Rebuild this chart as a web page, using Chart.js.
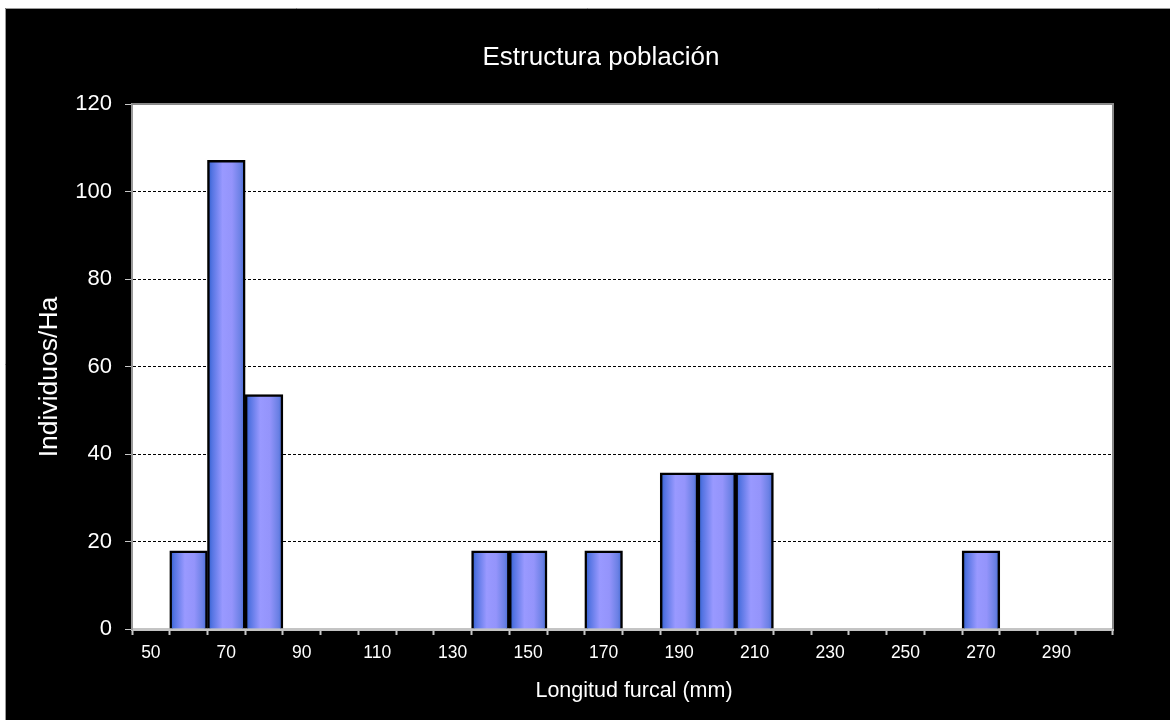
<!DOCTYPE html>
<html>
<head>
<meta charset="utf-8">
<script src="https://cdn.jsdelivr.net/npm/chart.js@4/dist/chart.umd.min.js"></script>
<style>
  html, body { margin: 0; padding: 0; background: #ffffff; }
  #wrap { width: 1170px; height: 720px; position: relative; }
  canvas { display: block; }
</style>
</head>
<body>
<div id="wrap"><canvas id="c" width="1170" height="720"></canvas></div>
<script>
// ---- data ----
const categories = [50,60,70,80,90,100,110,120,130,140,150,160,170,180,190,200,210,220,230,240,250,260,270,280,290,300];
const individuosHa = [0,17.86,107.14,53.57,0,0,0,0,0,17.86,17.86,0,17.86,0,35.71,35.71,35.71,0,0,0,0,0,17.86,0,0,0];
const yTicks = [0,20,40,60,80,100,120];
const chartTitle = 'Estructura población';
const xTitle = 'Longitud furcal (mm)';
const yTitle = 'Individuos/Ha';

const FONT = '"Liberation Sans", Arial, sans-serif';

const frame = {
  id: 'frame',
  beforeDraw(chart) {
    const ctx = chart.ctx;
    ctx.save();
    ctx.fillStyle = '#ffffff';
    ctx.fillRect(0, 0, chart.width, chart.height);
    ctx.fillStyle = '#000000';
    ctx.fillRect(5, 8, chart.width - 5, chart.height - 8);
    ctx.strokeStyle = '#9a9a9a';
    ctx.lineWidth = 1;
    ctx.beginPath();
    ctx.moveTo(5.5, chart.height); ctx.lineTo(5.5, 8.5); ctx.lineTo(chart.width, 8.5);
    ctx.stroke();
    const a = chart.chartArea;
    ctx.fillStyle = '#ffffff';
    ctx.fillRect(a.left, a.top, a.right - a.left, a.bottom - a.top);
    ctx.restore();
  },
  afterDraw(chart) {
    const ctx = chart.ctx;
    const a = chart.chartArea;
    ctx.save();
    ctx.strokeStyle = '#8a8a8a';
    ctx.lineWidth = 2;
    ctx.beginPath();
    ctx.moveTo(a.left, a.top); ctx.lineTo(a.right, a.top); ctx.lineTo(a.right, a.bottom);
    ctx.stroke();
    // titles
    ctx.fillStyle = '#ffffff';
    ctx.textAlign = 'center';
    ctx.textBaseline = 'alphabetic';
    ctx.font = '26px ' + FONT;
    ctx.fillText(chartTitle, 601, 65);
    ctx.font = '21.5px ' + FONT;
    ctx.fillText(xTitle, 634, 697);
    ctx.translate(57, 377);
    ctx.rotate(-Math.PI / 2);
    ctx.font = '26.5px ' + FONT;
    ctx.fillText(yTitle, 0, 0);
    ctx.restore();
  }
};

function barGradient(ctx) {
  const chart = ctx.chart;
  const xs = chart.scales.x;
  if (!chart.chartArea || !xs) return '#8f8ff5';
  const cx = xs.getPixelForValue(ctx.dataIndex);
  const w = (xs.right - xs.left) / categories.length;
  const g = chart.ctx.createLinearGradient(cx - w / 2, 0, cx + w / 2, 0);
  g.addColorStop(0, '#2a5acb');
  g.addColorStop(0.12, '#5474e2');
  g.addColorStop(0.4, '#9999ff');
  g.addColorStop(0.65, '#9494fb');
  g.addColorStop(0.88, '#6a80e4');
  g.addColorStop(1, '#3d66d2');
  return g;
}

new Chart(document.getElementById('c'), {
  type: 'bar',
  data: {
    labels: categories.map(String),
    datasets: [{
      data: individuosHa,
      backgroundColor: barGradient,
      borderColor: '#000000',
      borderWidth: 2.5,
      borderSkipped: 'bottom',
      barPercentage: 1,
      categoryPercentage: 1
    }]
  },
  plugins: [frame],
  options: {
    responsive: false,
    animation: false,
    devicePixelRatio: 1,
    layout: { padding: { left: 5, top: 104, right: 57, bottom: 0 } },
    plugins: {
      legend: { display: false },
      tooltip: { enabled: false },
      title: { display: false }
    },
    scales: {
      x: {
        afterFit(s) { s.height = 91; },
        grid: { display: true, drawOnChartArea: false, drawTicks: true, tickLength: 6, tickColor: '#c8c8c8', tickWidth: 2, offset: true },
        border: { display: true, color: '#c4c4c4', width: 3 },
        ticks: {
          autoSkip: false,
          maxRotation: 0,
          color: '#ffffff',
          padding: 8,
          font: { family: FONT, size: 17.5 },
          callback(v, i) { return i % 2 === 0 ? categories[i] : ''; }
        },
        title: { display: false }
      },
      y: {
        min: 0,
        max: 120,
        afterFit(s) { s.width = 127; },
        afterBuildTicks(s) { s.ticks = yTicks.map(v => ({ value: v })); },
        grid: {
          color: (c) => (c.tick && (c.tick.value === 0 || c.tick.value === 120)) ? 'rgba(0,0,0,0)' : '#000000',
          lineWidth: 1,
          drawTicks: true,
          tickLength: 7,
          tickColor: '#c8c8c8',
          tickBorderDash: [],
        },
        border: { display: true, color: '#9a9a9a', width: 2, dash: [3, 2] },
        ticks: {
          color: '#ffffff',
          padding: 13,
          font: { family: FONT, size: 22 }
        },
        title: { display: false }
      }
    }
  }
});
</script>
</body>
</html>
